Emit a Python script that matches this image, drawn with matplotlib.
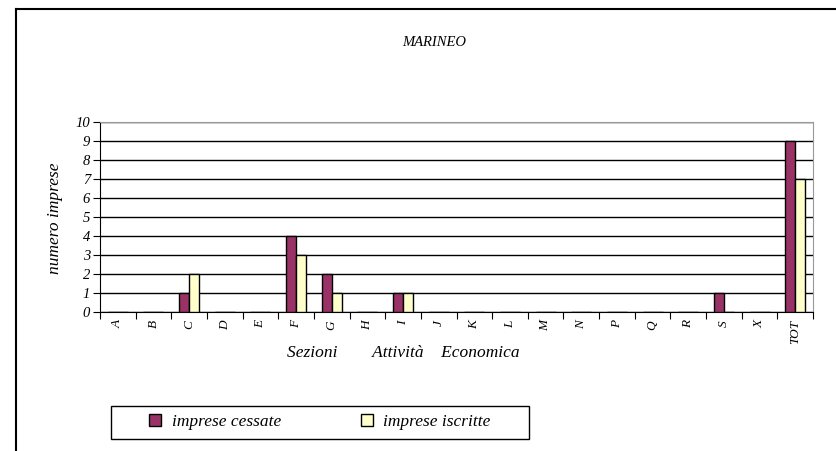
import matplotlib
matplotlib.use("Agg")
import matplotlib.pyplot as plt
import numpy as np
from matplotlib.lines import Line2D
from matplotlib.patches import Rectangle

plt.rcParams['font.family'] = ['Liberation Serif', 'DejaVu Serif']
plt.rcParams['font.style'] = 'italic'

sezioni = ["A", "B", "C", "D", "E", "F", "G", "H", "I", "J",
           "K", "L", "M", "N", "P", "Q", "R", "S", "X", "TOT"]
cessate = [0, 0, 1, 0, 0, 4, 2, 0, 1, 0, 0, 0, 0, 0, 0, 0, 0, 1, 0, 9]
iscritte = [0, 0, 2, 0, 0, 3, 1, 0, 1, 0, 0, 0, 0, 0, 0, 0, 0, 0, 0, 7]

W, H = 836, 451
fig = plt.figure(figsize=(W / 100, H / 100), dpi=100)
ax = fig.add_axes([100 / W, 1 - 312 / H, 713 / W, 190 / H])

x = np.arange(len(sezioni)) + 0.5
bw = 0.28
ax.bar(x - bw / 2, cessate, bw, color="#993366", edgecolor="black", linewidth=1,
       label="imprese cessate", zorder=3)
ax.bar(x + bw / 2, iscritte, bw, color="#FFFFCC", edgecolor="black", linewidth=1,
       label="imprese iscritte", zorder=3)

ax.set_xlim(0, len(sezioni))
ax.set_ylim(0, 10)
ax.set_yticks(range(0, 11))
ax.yaxis.grid(True, color="black", linewidth=1)
ax.set_axisbelow(True)

# ticks between sections, labels centred in each section
ax.set_xticks(np.arange(0, len(sezioni) + 1), minor=False)
ax.set_xticklabels([])
ax.set_xticks(x, minor=True)
ax.set_xticklabels(sezioni, minor=True, rotation=90, fontsize=9.5)
ax.tick_params(axis="x", which="minor", length=0, pad=6)
ax.tick_params(axis="x", which="major", length=5, direction="out", color="black")
ax.tick_params(axis="y", length=5, direction="out", labelsize=10.5, pad=2)

for s in ["top", "right"]:
    ax.spines[s].set_color("#999999")
for s in ["left", "bottom"]:
    ax.spines[s].set_color("black")

fig.text(55 / W, 1 - 218 / H, "numero imprese", rotation=90,
         ha="center", va="center", fontsize=12.5)
fig.text(403 / W, 1 - 353 / H, "Sezioni        Attività    Economica",
         ha="center", va="center", fontsize=12.5)
fig.text(434 / W, 1 - 43 / H, "MARINEO", ha="center", va="center", fontsize=10.5)

leg = fig.legend(loc="center", ncol=2, bbox_to_anchor=(320 / W, 1 - 422 / H),
                 frameon=False, handlelength=0.7, handleheight=0.7,
                 handletextpad=0.6, columnspacing=4.6, fontsize=12.5)
fig.add_artist(Rectangle((111 / W, 1 - 439 / H), 418 / W, 33 / H,
                         transform=fig.transFigure, fill=False,
                         edgecolor="black", linewidth=1))

# outer chart frame (only left and top edges visible)
fig.add_artist(Line2D([16 / W, 16 / W], [0, 1 - 9 / H], transform=fig.transFigure,
                      color="black", linewidth=1.5))
fig.add_artist(Line2D([16 / W, 1], [1 - 9 / H, 1 - 9 / H], transform=fig.transFigure,
                      color="black", linewidth=1.5))

fig.savefig("out.png", dpi=100)
